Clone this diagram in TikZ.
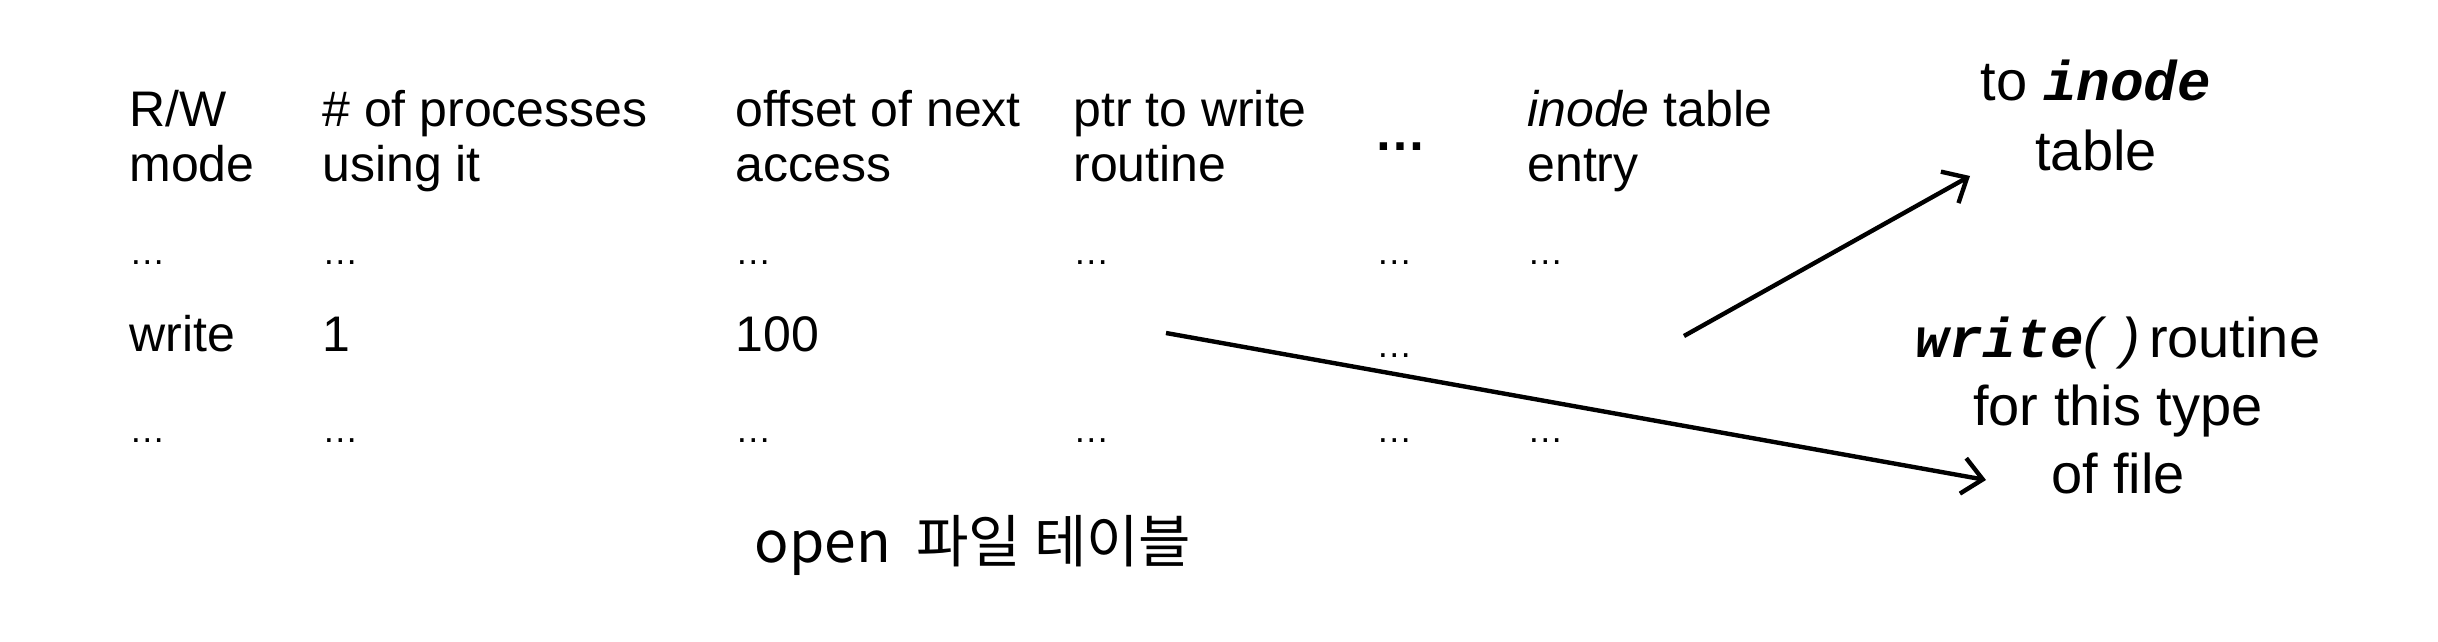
\documentclass[tikz,border=0pt]{standalone}
\usepackage{fontspec}
\setmainfont{Liberation Sans}
\setmonofont{Liberation Mono}
\newfontfamily\cjk{Noto Sans CJK KR}
\usetikzlibrary{arrows.meta}
\begin{document}
\begin{tikzpicture}[x=0.5pt,y=-0.5pt,
  cell/.style={anchor=base west,inner sep=0pt,font=\fontsize{25}{26}\selectfont},
  hdr/.style={anchor=base west,inner sep=0pt,align=left,font=\fontsize{25}{28}\selectfont},
  dots/.style={anchor=base west,inner sep=0pt,font=\fontsize{18}{20}\selectfont},
  lbl/.style={anchor=base,inner sep=0pt,align=center,font=\fontsize{28}{34}\selectfont},
  conn/.style={line width=2.2pt,-{Straight Barb[length=10pt,width=18pt,line width=2.2pt]}}]
\useasboundingbox (0,0) rectangle (2438,642);
% header (base = baseline of last line)
\node[hdr] (h1) at (129,182) {R/W\\mode};
\node[hdr] (h2) at (322,182) {\# of processes\\using it};
\node[hdr] (h3) at (735,182) {offset of next\\access};
\node[hdr] (h4) at (1073,182) {ptr to write\\routine};
\node[anchor=base west,inner sep=0pt,font=\fontsize{26}{28}\selectfont\bfseries] (h5) at (1374,151) {…};
\node[hdr] (h6) at (1527,182) {\textit{inode} table\\entry};
% row 1
\node[dots] (a1) at (129,264) {…};
\node[dots] (a2) at (322,264) {…};
\node[dots] (a3) at (735,264) {…};
\node[dots] (a4) at (1073,264) {…};
\node[dots] (a5) at (1376,264) {…};
\node[dots] (a6) at (1527,264) {…};
% row 2
\node[cell] (b1) at (129,351) {write};
\node[cell] (b2) at (322,351) {1};
\node[cell] (b3) at (735,351) {100};
\node[dots] (b5) at (1376,357) {…};
% row 3
\node[dots] (c1) at (129,442) {…};
\node[dots] (c2) at (322,442) {…};
\node[dots] (c3) at (735,442) {…};
\node[dots] (c4) at (1073,442) {…};
\node[dots] (c5) at (1376,442) {…};
\node[dots] (c6) at (1527,442) {…};
% caption
\node[anchor=base,inner sep=0pt,font=\fontsize{28.5}{30}\cjk] (cap) at (973,562) {open\ \ 파일 테이블};
% right labels
\node[lbl,font=\fontsize{28}{35}\selectfont] (inode) at (2096,170) {to {\ttfamily\bfseries\itshape inode}\\table};
\node[lbl] (wr) at (2118,493) {{\ttfamily\bfseries\itshape write}{\rmfamily\itshape(\,\,)}\,routine\\for this type\\of file};
% connectors
\coordinate (s1) at (1684,336);
\coordinate (e1) at (1970,176);
\coordinate (s2) at (1166,333);
\coordinate (e2) at (1986,480);
\draw[conn] (s1) -- (e1);
\draw[conn] (s2) -- (e2);
\end{tikzpicture}
\end{document}
